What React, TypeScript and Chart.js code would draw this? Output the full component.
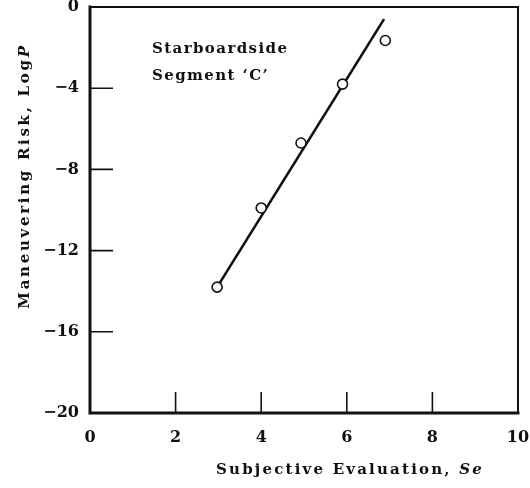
import React, { useEffect, useRef } from "react";
import { Chart, registerables } from "chart.js";

Chart.register(...registerables);

// Data
const seValues = [2.97, 4.0, 4.93, 5.9, 6.9];
const logPValues = [-13.8, -9.9, -6.7, -3.8, -1.65];
const fitX = [2.97, 6.87];
const fitY = [-13.8, -0.6];
const xTickValues = [0, 2, 4, 6, 8, 10];
const yTickValues = [0, -4, -8, -12, -16, -20];
const xInnerTicks = [2, 4, 6, 8];
const yInnerTicks = [-4, -8, -12, -16];
const annotationLines = ["Starboardside", "Segment \u2018C\u2019"];
const xTitle = ["Subjective Evaluation, ", "Se"];
const yTitle = ["Maneuvering Risk, Log", "P"];

const FONT = "'DejaVu Serif', 'Liberation Serif', serif";

const framePlugin = {
  id: "frame",
  afterDraw(chart: any) {
    const { ctx, chartArea, scales } = chart;
    const { left, right, top, bottom } = chartArea;
    ctx.save();
    ctx.strokeStyle = "#111";
    ctx.lineCap = "square";
    ctx.lineWidth = 2;
    ctx.beginPath();
    ctx.moveTo(left, top);
    ctx.lineTo(right, top);
    ctx.lineTo(right, bottom);
    ctx.stroke();
    ctx.lineWidth = 3;
    ctx.beginPath();
    ctx.moveTo(left, top);
    ctx.lineTo(left, bottom);
    ctx.lineTo(right, bottom);
    ctx.stroke();
    ctx.lineWidth = 1.6;
    ctx.lineCap = "butt";
    ctx.beginPath();
    for (const v of yInnerTicks) {
      const y = scales.y.getPixelForValue(v);
      ctx.moveTo(left, y);
      ctx.lineTo(left + 23, y);
    }
    for (const v of xInnerTicks) {
      const x = scales.x.getPixelForValue(v);
      ctx.moveTo(x, bottom);
      ctx.lineTo(x, bottom - 21);
    }
    ctx.stroke();

    ctx.fillStyle = "#111";
    ctx.font = `bold 15px ${FONT}`;
    (ctx as any).letterSpacing = "1.4px";
    ctx.textAlign = "left";
    ctx.textBaseline = "alphabetic";
    ctx.fillText(annotationLines[0], 152, 53);
    ctx.fillText(annotationLines[1], 152, 80);

    (ctx as any).letterSpacing = "2.2px";
    ctx.font = `bold 15px ${FONT}`;
    const w1 = ctx.measureText(xTitle[0]).width;
    ctx.font = `italic bold 15px ${FONT}`;
    const w2 = ctx.measureText(xTitle[1]).width;
    const xs = 350 - (w1 + w2) / 2;
    ctx.font = `bold 15px ${FONT}`;
    ctx.fillText(xTitle[0], xs, 474);
    ctx.font = `italic bold 15px ${FONT}`;
    ctx.fillText(xTitle[1], xs + w1, 474);

    ctx.save();
    ctx.translate(29, 176);
    ctx.rotate(-Math.PI / 2);
    (ctx as any).letterSpacing = "2.7px";
    ctx.font = `bold 15px ${FONT}`;
    const v1 = ctx.measureText(yTitle[0]).width;
    ctx.font = `italic bold 15px ${FONT}`;
    const v2 = ctx.measureText(yTitle[1]).width;
    const ys = -(v1 + v2) / 2;
    ctx.font = `bold 15px ${FONT}`;
    ctx.fillText(yTitle[0], ys, 0);
    ctx.font = `italic bold 15px ${FONT}`;
    ctx.fillText(yTitle[1], ys + v1, 0);
    ctx.restore();

    ctx.restore();
  },
};

export default function App() {
  const ref = useRef<HTMLCanvasElement>(null);
  useEffect(() => {
    if (!ref.current) return;
    const chart = new Chart(ref.current, {
      type: "scatter",
      data: {
        datasets: [
          {
            label: "fit",
            data: fitX.map((x, i) => ({ x, y: fitY[i] })),
            showLine: true,
            borderColor: "#111",
            borderWidth: 2.6,
            pointRadius: 0,
            order: 2,
          },
          {
            label: "obs",
            data: seValues.map((x, i) => ({ x, y: logPValues[i] })),
            pointRadius: 5,
            pointBackgroundColor: "#fff",
            pointBorderColor: "#111",
            pointBorderWidth: 1.6,
            order: 1,
          },
        ],
      },
      options: {
        responsive: false,
        animation: false,
        layout: { padding: { left: 0, right: 12, top: 7, bottom: 0 } },
        plugins: { legend: { display: false }, tooltip: { enabled: false } },
        scales: {
          x: {
            type: "linear",
            min: 0,
            max: 10,
            afterFit: (s: any) => {
              s.height = 75;
              s.paddingLeft = 0;
              s.paddingRight = 0;
            },
            afterBuildTicks: (s: any) => {
              s.ticks = xTickValues.map((v) => ({ value: v }));
            },
            grid: { display: false, drawTicks: false },
            border: { display: false },
            ticks: {
              padding: 15,
              color: "#111",
              font: { family: FONT, size: 16, weight: "bold" },
              maxRotation: 0,
            },
          },
          y: {
            type: "linear",
            min: -20,
            max: 0,
            afterFit: (s: any) => {
              s.width = 90;
              s.paddingTop = 0;
              s.paddingBottom = 0;
            },
            afterBuildTicks: (s: any) => {
              s.ticks = yTickValues.map((v) => ({ value: v }));
            },
            grid: { display: false, drawTicks: false },
            border: { display: false },
            ticks: {
              padding: 11,
              color: "#111",
              font: { family: FONT, size: 16, weight: "bold" },
              callback: (v: any) => (v < 0 ? "\u2212" + Math.abs(v) : String(v)),
            },
          },
        },
      },
      plugins: [framePlugin],
    });
    return () => chart.destroy();
  }, []);
  return (
    <div style={{ position: "absolute", left: 0, top: 0, width: 530, height: 488, background: "#fff" }}>
      <canvas ref={ref} width={530} height={488} />
    </div>
  );
}
